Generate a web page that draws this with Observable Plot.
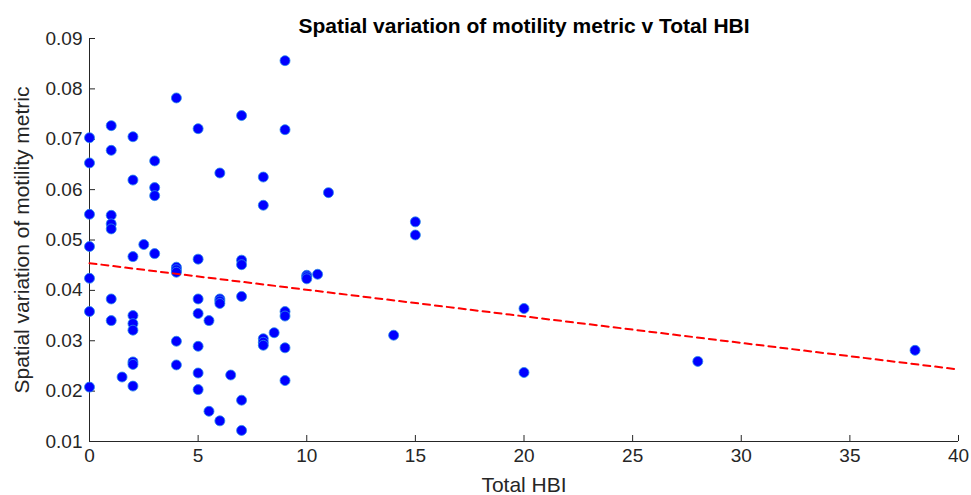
<!DOCTYPE html>
<html>
<head>
<meta charset="utf-8">
<script src="https://cdn.jsdelivr.net/npm/d3@7"></script>
<script src="https://cdn.jsdelivr.net/npm/@observablehq/plot@0.6"></script>
<style>
  html, body { margin: 0; padding: 0; background: #fff; }
  #chart svg { display: block; font-family: "Liberation Sans", Arial, sans-serif; }
</style>
</head>
<body>
<div id="chart"></div>
<script>
const title = "Spatial variation of motility metric v Total HBI";
const xLabel = "Total HBI";
const yLabel = "Spatial variation of motility metric";

// Total HBI values
const hbi = [
  0, 0, 0, 0, 0, 0, 0,
  1, 1, 1, 1, 1, 1, 1,
  1.5,
  2, 2, 2, 2, 2, 2, 2, 2, 2,
  2.5,
  3, 3, 3, 3,
  4, 4, 4, 4, 4, 4,
  5, 5, 5, 5, 5, 5, 5,
  5.5, 5.5,
  6, 6, 6, 6, 6,
  6.5,
  7, 7, 7, 7, 7, 7,
  8, 8, 8, 8, 8,
  8.5,
  9, 9, 9, 9, 9, 9,
  10, 10, 10,
  10.5,
  11,
  14,
  15, 15,
  20, 20,
  28,
  38
];
// Spatial variation of motility metric
const motility = [
  0.0703, 0.0653, 0.0551, 0.0487, 0.0424, 0.0358, 0.0208,
  0.0727, 0.0678, 0.0549, 0.0532, 0.0522, 0.0383, 0.0340,
  0.0228,
  0.0705, 0.0619, 0.0467, 0.0350, 0.0334, 0.0321, 0.0258, 0.0253, 0.0210,
  0.0491,
  0.0657, 0.0604, 0.0588, 0.0473,
  0.0782, 0.0446, 0.0441, 0.0436, 0.0299, 0.0252,
  0.0721, 0.0462, 0.0383, 0.0354, 0.0289, 0.0236, 0.0203,
  0.0340, 0.0160,
  0.0633, 0.0383, 0.0379, 0.0374, 0.0141,
  0.0232,
  0.0747, 0.0460, 0.0451, 0.0388, 0.0182, 0.0122,
  0.0625, 0.0569, 0.0304, 0.0297, 0.0291,
  0.0316,
  0.0856, 0.0719, 0.0358, 0.0349, 0.0286, 0.0221,
  0.0430, 0.0427, 0.0423,
  0.0432,
  0.0594,
  0.0311,
  0.0536, 0.0510,
  0.0364, 0.0237,
  0.0259,
  0.0281
];
// Fitted trend line endpoints
const trendX = [0, 40];
const trendY = [0.0454, 0.0243];

const xTicks = [0, 5, 10, 15, 20, 25, 30, 35, 40];
const yTicks = [0.01, 0.02, 0.03, 0.04, 0.05, 0.06, 0.07, 0.08, 0.09];

const points = hbi.map((x, i) => ({x, y: motility[i]}));
const trend = trendX.map((x, i) => ({x, y: trendY[i]}));

const axisColor = "#262626";

const chart = Plot.plot({
  width: 971,
  height: 495,
  marginLeft: 89,
  marginRight: 13,
  marginTop: 38,
  marginBottom: 54,
  style: {fontFamily: "'Liberation Sans', Arial, sans-serif", color: axisColor, background: "#fff"},
  x: {domain: [0, 40], ticks: xTicks},
  y: {domain: [0.01, 0.09], ticks: yTicks},
  marks: [
    Plot.axisX({ticks: xTicks, tickSize: -6, tickPadding: 13, fontSize: 19, label: null, stroke: axisColor, fill: axisColor}),
    Plot.axisY({ticks: yTicks, tickSize: -6, tickPadding: 13, fontSize: 19, label: null, tickFormat: d3.format(".2f"), stroke: axisColor, fill: axisColor}),
    Plot.ruleX([0], {stroke: axisColor, strokeWidth: 1}),
    Plot.ruleY([0.01], {stroke: axisColor, strokeWidth: 1}),
    Plot.dot(points, {x: "x", y: "y", r: 5, fill: "#0000ff", stroke: "#2b8de8", strokeWidth: 0.8}),
    Plot.line(trend, {x: "x", y: "y", stroke: "#ff0000", strokeWidth: 2, strokeDasharray: "7,5"}),
    Plot.text([title], {frameAnchor: "top", dy: -20, fontSize: 21, fontWeight: "bold", fill: "#000", text: d => d}),
    Plot.text([xLabel], {frameAnchor: "bottom", dy: 44, lineAnchor: "middle", fontSize: 21, fill: axisColor, text: d => d}),
    Plot.text([yLabel], {frameAnchor: "left", dx: -67, rotate: -90, textAnchor: "middle", fontSize: 21, fill: axisColor, text: d => d})
  ]
});
document.getElementById("chart").appendChild(chart);
</script>
</body>
</html>
